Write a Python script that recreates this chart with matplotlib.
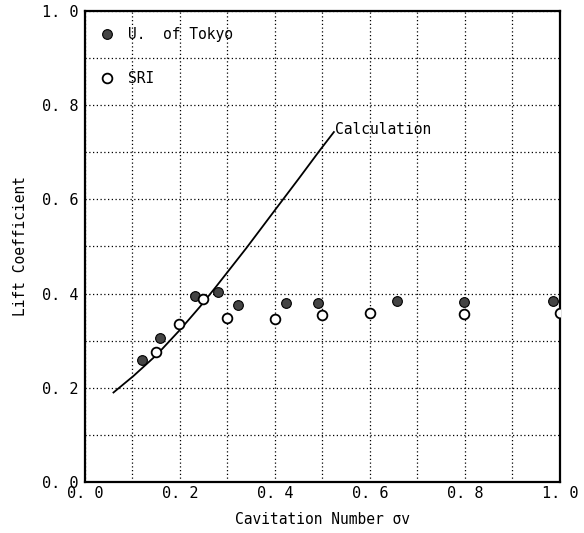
import matplotlib.pyplot as plt
from matplotlib.ticker import MultipleLocator

# U. of Tokyo (filled)
tokyo_x = [0.121, 0.158, 0.232, 0.281, 0.323, 0.424, 0.490, 0.656, 0.798, 0.986]
tokyo_y = [0.258, 0.306, 0.395, 0.404, 0.375, 0.379, 0.381, 0.384, 0.383, 0.384]

# SRI (open)
sri_x = [0.149, 0.198, 0.248, 0.298, 0.399, 0.499, 0.599, 0.798, 0.999]
sri_y = [0.277, 0.335, 0.388, 0.348, 0.347, 0.354, 0.358, 0.357, 0.358]

# Calculation curve
calc_x = [0.060, 0.102, 0.151, 0.200, 0.242, 0.277, 0.312, 0.340, 0.396, 0.450, 0.495, 0.524]
calc_y = [0.190, 0.225, 0.270, 0.323, 0.372, 0.416, 0.461, 0.497, 0.572, 0.644, 0.705, 0.743]

tick_vals = [0.0, 0.2, 0.4, 0.6, 0.8, 1.0]
tick_labels = ["0. 0", "0. 2", "0. 4", "0. 6", "0. 8", "1. 0"]

plt.rcParams['font.family'] = ['DejaVu Sans Mono', 'DejaVu Sans']

fig = plt.figure(figsize=(5.84, 5.33), dpi=100)
ax = fig.add_axes([0.1455, 0.0957, 0.8134, 0.8837])

ax.plot(calc_x, calc_y, color="black", linewidth=1.3, zorder=3)
ax.text(calc_x[-1] + 0.003, calc_y[-1] + 0.006, "Calculation", fontsize=10.5,
        ha="left", va="center")

h1, = ax.plot(tokyo_x, tokyo_y, "o", markersize=7, markerfacecolor="#444444",
              markeredgecolor="black", markeredgewidth=0.8, linestyle="none",
              zorder=4, label="U.  of Tokyo")
h2, = ax.plot(sri_x, sri_y, "o", markersize=7, markerfacecolor="white",
              markeredgecolor="black", markeredgewidth=1.3, linestyle="none",
              zorder=4, label="SRI")

leg = ax.legend(handles=[h1, h2], loc="upper left", bbox_to_anchor=(-0.007, 0.997),
                frameon=False, fontsize=10.5, labelspacing=2.0,
                handletextpad=0.7, handlelength=1.5, borderaxespad=0.6)

ax.set_xlim(0, 1.0)
ax.set_ylim(0, 1.0)
ax.set_xticks(tick_vals)
ax.set_xticklabels(tick_labels, fontsize=11)
ax.set_yticks(tick_vals)
ax.set_yticklabels(tick_labels, fontsize=11)
ax.xaxis.set_minor_locator(MultipleLocator(0.1))
ax.yaxis.set_minor_locator(MultipleLocator(0.1))
ax.tick_params(which="both", length=0)
ax.tick_params(axis="x", pad=3)
ax.tick_params(axis="y", pad=5)
ax.grid(True, which="both", linestyle=(0, (1, 2)), color="black", linewidth=0.9)
ax.set_axisbelow(True)

for s in ax.spines.values():
    s.set_linewidth(1.6)

ax.set_xlabel("Cavitation Number σv", fontsize=10.5, labelpad=8)
ax.set_ylabel("Lift Coefficient", fontsize=10.5, labelpad=10)

fig.savefig("out.png", dpi=100)
